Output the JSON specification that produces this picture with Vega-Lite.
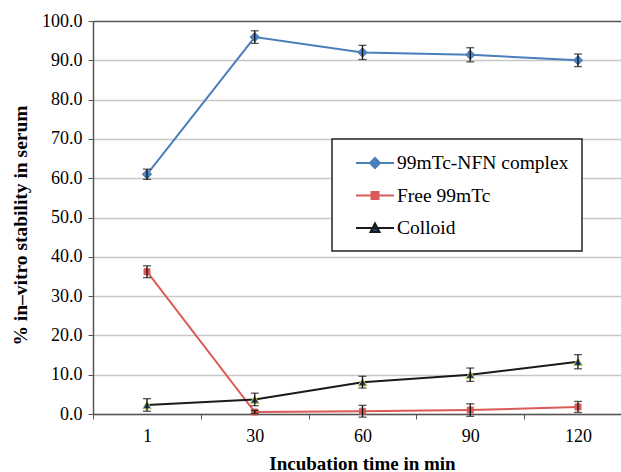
{
  "$schema": "https://vega.github.io/schema/vega-lite/v6.json",
  "width": 528,
  "height": 393,
  "autosize": {"type": "none"},
  "padding": {"left": 93, "top": 21, "right": 0, "bottom": 58},
  "background": "white",
  "config": {
    "font": "Liberation Serif",
    "view": {"stroke": null}
  },
  "data": {
    "values": [
      {"time": "1", "series": "99mTc-NFN complex", "value": 61.0, "err": 1.3},
      {"time": "30", "series": "99mTc-NFN complex", "value": 95.9, "err": 1.6},
      {"time": "60", "series": "99mTc-NFN complex", "value": 92.0, "err": 1.8},
      {"time": "90", "series": "99mTc-NFN complex", "value": 91.4, "err": 1.8},
      {"time": "120", "series": "99mTc-NFN complex", "value": 90.0, "err": 1.6},
      {"time": "1", "series": "Free 99mTc", "value": 36.2, "err": 1.5},
      {"time": "30", "series": "Free 99mTc", "value": 0.5, "err": 0.4},
      {"time": "60", "series": "Free 99mTc", "value": 0.7, "err": 1.5},
      {"time": "90", "series": "Free 99mTc", "value": 1.0, "err": 1.6},
      {"time": "120", "series": "Free 99mTc", "value": 1.8, "err": 1.4},
      {"time": "1", "series": "Colloid", "value": 2.3, "err": 1.6},
      {"time": "30", "series": "Colloid", "value": 3.7, "err": 1.6},
      {"time": "60", "series": "Colloid", "value": 8.1, "err": 1.5},
      {"time": "90", "series": "Colloid", "value": 10.0, "err": 1.7},
      {"time": "120", "series": "Colloid", "value": 13.3, "err": 1.8}
    ]
  },
  "encoding": {
    "x": {
      "field": "time",
      "type": "ordinal",
      "sort": ["1", "30", "60", "90", "120"],
      "scale": {"type": "point", "padding": 0.4501, "align": 0.5567},
      "axis": {
        "title": "Incubation time in min",
        "titleFont": "Liberation Serif",
        "titleFontSize": 19,
        "titleFontWeight": "bold",
        "titleColor": "black",
        "titleX": 269,
        "titleY": 55,
        "titleBaseline": "alphabetic",
        "labelFont": "Liberation Serif",
        "labelFontSize": 18,
        "labelColor": "black",
        "labelAngle": 0,
        "labelPadding": 8,
        "tickSize": 5,
        "tickColor": "#555",
        "tickOffset": -53.9,
        "labelOffset": 53.9,
        "domainColor": "#555",
        "domainWidth": 1.5,
        "grid": false
      }
    },
    "y": {
      "field": "value",
      "type": "quantitative",
      "scale": {"domain": [0, 100], "nice": false},
      "axis": {
        "title": "% in–vitro stability in serum",
        "titleFont": "Liberation Serif",
        "titleFontSize": 19.5,
        "titleFontWeight": "bold",
        "titleColor": "black",
        "titleX": -67,
        "titleY": 204,
        "titleBaseline": "alphabetic",
        "values": [0, 10, 20, 30, 40, 50, 60, 70, 80, 90, 100],
        "format": ".1f",
        "labelFont": "Liberation Serif",
        "labelFontSize": 18,
        "labelColor": "black",
        "labelPadding": 6,
        "tickSize": 5,
        "tickColor": "#555",
        "domainColor": "#555",
        "domainWidth": 1.5,
        "grid": true,
        "gridColor": {"condition": {"test": "datum.value === 100", "value": "#555"}, "value": "#c8c8c8"},
        "gridWidth": 1.5
      }
    }
  },
  "layer": [
    {
      "mark": {"type": "line", "strokeWidth": 2},
      "encoding": {
        "color": {
          "field": "series",
          "type": "nominal",
          "scale": {
            "domain": ["99mTc-NFN complex", "Free 99mTc", "Colloid"],
            "range": ["#4A7EBB", "#DA5A57", "#1A1A1A"]
          },
          "legend": {
            "orient": "none",
            "legendX": 239,
            "legendY": 118,
            "title": null,
            "fillColor": "white",
            "strokeColor": "#222",
            "padding": 13,
            "labelFont": "Liberation Serif",
            "labelFontSize": 19.5,
            "labelColor": "black",
            "labelOffset": 30,
            "labelLimit": 0,
            "rowPadding": 11.5,
            "symbolSize": 400,
            "symbolStrokeWidth": 2,
            "encode": {
              "legend": {"update": {"strokeWidth": {"value": 1.5}}},
              "symbols": {
                "update": {
                  "shape": {"signal": "datum.value === '99mTc-NFN complex' ? 'M0,0L3.8,0M1.9,-0.5L2.4,0L1.9,0.5L1.4,0Z' : datum.value === 'Free 99mTc' ? 'M0,0L3.8,0M1.55,-0.35H2.25V0.35H1.55Z' : 'M0,0L3.8,0M1.9,-0.45L2.35,0.4L1.45,0.4Z'"},
                  "fill": {"signal": "datum.value === '99mTc-NFN complex' ? '#4F81BD' : datum.value === 'Free 99mTc' ? '#DA5A57' : '#1F3E7A'"},
                  "stroke": {"signal": "datum.value === '99mTc-NFN complex' ? '#4A7EBB' : datum.value === 'Free 99mTc' ? '#DA5A57' : '#1A1A1A'"},
                  "strokeWidth": {"value": 2},
                  "opacity": {"value": 1}
                }
              }
            }
          }
        }
      }
    },
    {
      "transform": [{"filter": "datum.series === '99mTc-NFN complex'"}],
      "mark": {"type": "point", "shape": "diamond", "filled": true, "opacity": 1, "size": 90, "fill": "#4F81BD", "stroke": "#4F81BD", "strokeWidth": 1}
    },
    {
      "transform": [{"filter": "datum.series === 'Free 99mTc'"}],
      "mark": {"type": "point", "shape": "square", "filled": true, "opacity": 1, "size": 36, "fill": "#DA5A57", "stroke": "#DA5A57", "strokeWidth": 1}
    },
    {
      "transform": [{"filter": "datum.series === 'Colloid'"}],
      "mark": {"type": "point", "shape": "triangle-up", "filled": true, "opacity": 1, "size": 75, "fill": "#1F3E7A", "stroke": "#C6D24E", "strokeWidth": 1}
    },
    {
      "mark": {"type": "errorbar", "color": "#111", "thickness": 1.3, "ticks": {"size": 8, "color": "#111"}},
      "encoding": {
        "y": {"field": "value", "type": "quantitative"},
        "yError": {"field": "err"}
      }
    }
  ]
}
